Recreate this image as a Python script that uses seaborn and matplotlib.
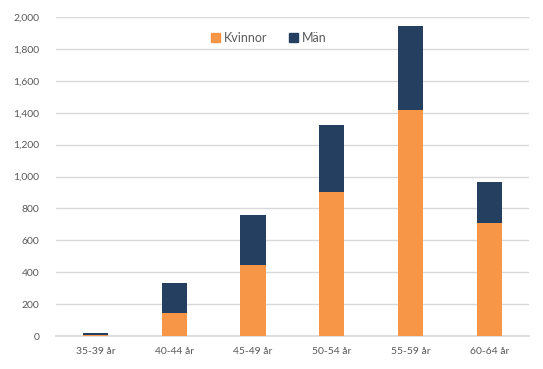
import matplotlib
matplotlib.use("Agg")
import matplotlib.pyplot as plt
import matplotlib.ticker as mticker
from matplotlib.patches import Patch
import seaborn as sns
import pandas as pd

# data
age_groups = ["35-39 år", "40-44 år", "45-49 år", "50-54 år", "55-59 år", "60-64 år"]
kvinnor = [6, 144, 445, 903, 1419, 708]
man = [14, 188, 314, 420, 525, 257]

orange = "#F79646"
navy = "#243F60"
grey_text = "#595959"

sns.set_theme(style="white")
plt.rcParams["font.family"] = ["Lato", "DejaVu Sans"]

df = pd.DataFrame({"age": age_groups, "Kvinnor": kvinnor, "Män": man})
df["total"] = df["Kvinnor"] + df["Män"]

fig, ax = plt.subplots(figsize=(5.43, 3.69), dpi=100)
fig.subplots_adjust(left=0.103, right=0.974, top=0.954, bottom=0.089)

sns.barplot(data=df, x="age", y="total", color=navy, width=0.32, saturation=1,
            linewidth=0, ax=ax, zorder=2)
sns.barplot(data=df, x="age", y="Kvinnor", color=orange, width=0.32, saturation=1,
            linewidth=0, ax=ax, zorder=3)

ax.set_ylim(0, 2000)
ax.set_yticks(range(0, 2001, 200))
ax.yaxis.set_major_formatter(mticker.FuncFormatter(lambda v, p: f"{int(v):,}"))
ax.grid(axis="y", color="#D9D9D9", linewidth=1, zorder=0)
ax.set_axisbelow(True)
ax.set_xlabel("")
ax.set_ylabel("")
for s in ["top", "right", "left"]:
    ax.spines[s].set_visible(False)
ax.spines["bottom"].set_color("#D9D9D9")
ax.tick_params(axis="both", length=0, labelsize=7.5, colors=grey_text, pad=8)
ax.tick_params(axis="y", pad=12)

handles = [Patch(color=orange, label="Kvinnor"), Patch(color=navy, label="Män")]
fig.legend(handles=handles, loc="center", bbox_to_anchor=(0.495, 0.897), ncol=2,
           frameon=False, fontsize=9, handlelength=0.7, handleheight=0.7,
           handletextpad=0.3, columnspacing=1.8, labelcolor=grey_text)

plt.savefig("out.png", dpi=100)
